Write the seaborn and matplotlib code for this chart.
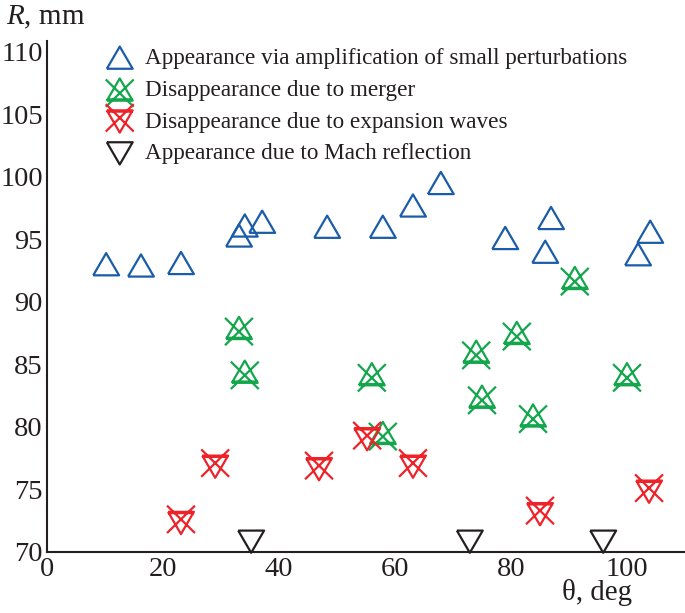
import numpy as np
import pandas as pd
import matplotlib
matplotlib.use("Agg")
import matplotlib.pyplot as plt
from matplotlib.path import Path
from matplotlib.markers import MarkerStyle
import seaborn as sns

# ---- data ----
blue_x = [10.2, 16.2, 23.1, 33.1, 34.1, 37.1, 48.3, 57.9, 63.1, 67.9, 79.0, 85.9, 86.9, 101.9, 104.0]
blue_y = [93.0, 92.9, 93.1, 95.3, 96.1, 96.4, 96.0, 96.0, 97.7, 99.5, 95.1, 94.0, 96.7, 93.8, 95.6]

green_x = [33.1, 34.1, 56.0, 57.9, 74.0, 75.0, 81.0, 83.8, 91.0, 100.0]
green_y = [87.9, 84.4, 84.2, 79.5, 86.0, 82.4, 87.5, 80.9, 91.9, 84.2]

red_x = [23.1, 29.0, 46.9, 55.2, 63.1, 85.0, 103.8]
red_y = [72.3, 76.8, 76.6, 79.0, 76.8, 73.0, 74.8]

black_x = [35.2, 72.9, 95.9]
black_y = [70.8, 70.8, 70.8]

labels = ["Appearance via amplification of small perturbations",
          "Disappearance due to merger",
          "Disappearance due to expansion waves",
          "Appearance due to Mach reflection"]
colors = ["#1b5ca8", "#13a64c", "#ee2229", "#231f20"]

x_ticks = [0, 20, 40, 60, 80, 100]
y_ticks = [70, 75, 80, 85, 90, 95, 100, 105, 110]

# ---- custom markers ----
h = 0.86
M, L = Path.MOVETO, Path.LINETO
tri_up = Path([(-1, -h), (1, -h), (0, h), (-1, -h)], [M, L, L, L])
tri_dn = Path([(-1, h), (1, h), (0, -h), (-1, h)], [M, L, L, L])

xw, xt, xb = 1.08, 0.78, -1.34
g_verts = [(-1, -h), (1, -h), (0, h), (-1, -h),
           (-1, -h + 0.1), (1, -h + 0.1),
           (-xw, xt), (xw, xb), (xw, xt), (-xw, xb)]
g_codes = [M, L, L, L, M, L, M, L, M, L]
green_path = Path(g_verts, g_codes)
r_verts = [(x, -y) for (x, y) in g_verts]
red_path = Path(r_verts, g_codes)

# ---- figure ----
sns.set_style("white")
plt.rcParams['font.family'] = ['Liberation Serif', 'DejaVu Serif']
plt.rcParams['mathtext.fontset'] = 'custom'
plt.rcParams['mathtext.it'] = 'Liberation Serif:italic'
plt.rcParams['mathtext.rm'] = 'Liberation Serif'

fig = plt.figure(figsize=(6.85, 6.13), dpi=100)
ax = fig.add_axes([47 / 685, 61.3 / 613, 638 / 685, 511.2 / 613])

tri_pt = 18.6  # triangle width in points
series = [
    (blue_x, blue_y, tri_up, 1.0),
    (green_x, green_y, green_path, 1.34),
    (red_x, red_y, red_path, 1.34),
    (black_x, black_y, tri_dn, 1.0),
]
for (xs, ys, mk, mx), lab, col in zip(series, labels, colors):
    df = pd.DataFrame({"theta": xs, "R": ys})
    size = tri_pt * mx
    sns.scatterplot(data=df, x="theta", y="R", ax=ax, marker=MarkerStyle(mk),
                    s=size ** 2, facecolor="none", edgecolor=col, color=col,
                    linewidth=1.6, label=lab, clip_on=False, zorder=3)

ax.set_xlim(0, 110)
ax.set_ylim(70, 110.9)
ax.set_xticks(x_ticks)
ax.set_yticks(y_ticks)
ax.set_xlabel("")
ax.set_ylabel("")
for s in ["top", "right"]:
    ax.spines[s].set_visible(False)
for s in ["left", "bottom"]:
    ax.spines[s].set_linewidth(1.5)
    ax.spines[s].set_color("#231f20")
ax.tick_params(direction="in", length=7, width=1.3, color="#231f20",
               labelsize=20.5, labelcolor="#231f20")
ax.tick_params(axis="x", pad=4)
ax.tick_params(axis="y", pad=3)

leg = ax.legend(loc="upper left", bbox_to_anchor=(60 / 638, 1.0 - 7 / 511.2),
                frameon=False, fontsize=16.7, handlelength=1.1,
                handletextpad=0.55, labelspacing=0.46, borderaxespad=0,
                borderpad=0, scatterpoints=1)
for t in leg.get_texts():
    t.set_color("#231f20")

fig.text(6 / 685, 1 - 17 / 613, r"$\it{R}$, mm", fontsize=21, color="#231f20",
         ha="left", va="center")
fig.text(562 / 685, 1 - 593 / 613, "θ, deg", fontsize=20.8, color="#231f20",
         ha="left", va="center")

fig.savefig("out.png", dpi=100)
